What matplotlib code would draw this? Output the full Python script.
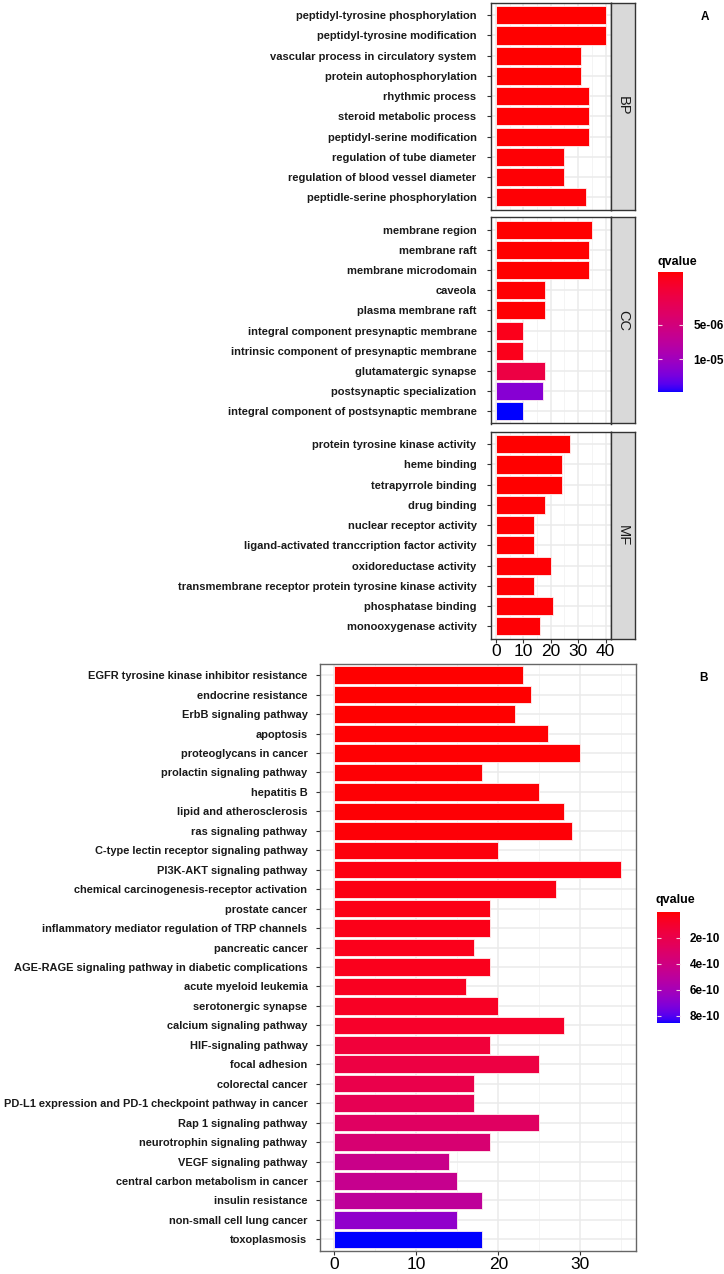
import numpy as np
import matplotlib
matplotlib.use('Agg')
from matplotlib import pyplot as plt
from matplotlib.colors import ListedColormap, LogNorm, Normalize
from matplotlib.cm import ScalarMappable

plt.rcParams['font.family'] = ['Liberation Sans', 'DejaVu Sans']

# ---- data (panel A: GO) ----
bp_terms = ['peptidyl-tyrosine phosphorylation', 'peptidyl-tyrosine modification',
            'vascular process in circulatory system', 'protein autophosphorylation',
            'rhythmic process', 'steroid metabolic process', 'peptidyl-serine modification',
            'regulation of tube diameter', 'regulation of blood vessel diameter',
            'peptidle-serine phosphorylation']
bp_count = [40, 40, 31, 31, 34, 34, 34, 25, 25, 33]
bp_q = [1.72e-6, 1.72e-6, 1.73e-6, 1.73e-6, 1.74e-6, 1.74e-6, 1.74e-6, 1.75e-6, 1.75e-6, 1.75e-6]

cc_terms = ['membrane region', 'membrane raft', 'membrane microdomain', 'caveola',
            'plasma membrane raft', 'integral component presynaptic membrane',
            'intrinsic component of presynaptic membrane', 'glutamatergic synapse',
            'postsynaptic specialization', 'integral component of postsynaptic membrane']
cc_count = [35, 34, 34, 18, 18, 10, 10, 18, 17, 10]
cc_q = [1.72e-6, 1.72e-6, 1.72e-6, 1.74e-6, 1.74e-6, 1.95e-6, 1.95e-6, 2.8e-6, 1.25e-5, 1.936e-5]

mf_terms = ['protein tyrosine kinase activity', 'heme binding', 'tetrapyrrole binding',
            'drug binding', 'nuclear receptor activity',
            'ligand-activated tranccription factor activity', 'oxidoreductase activity',
            'transmembrane receptor protein tyrosine kinase activity', 'phosphatase binding',
            'monooxygenase activity']
mf_count = [27, 24, 24, 18, 14, 14, 20, 14, 21, 16]
mf_q = [1.72e-6, 1.73e-6, 1.73e-6, 1.74e-6, 1.74e-6, 1.74e-6, 1.75e-6, 1.75e-6, 1.76e-6, 1.76e-6]

# ---- data (panel B: KEGG) ----
kegg_terms = ['EGFR tyrosine kinase inhibitor resistance', 'endocrine resistance',
              'ErbB signaling pathway', 'apoptosis', 'proteoglycans in cancer',
              'prolactin signaling pathway', 'hepatitis B', 'lipid and atherosclerosis',
              'ras signaling pathway', 'C-type lectin receptor signaling pathway',
              'PI3K-AKT signaling pathway', 'chemical carcinogenesis-receptor activation',
              'prostate cancer', 'inflammatory mediator regulation of TRP channels',
              'pancreatic cancer', 'AGE-RAGE signaling pathway in diabetic complications',
              'acute myeloid leukemia', 'serotonergic synapse', 'calcium signaling pathway',
              'HIF-signaling pathway', 'focal adhesion', 'colorectal cancer',
              'PD-L1 expression and PD-1 checkpoint pathway in cancer', 'Rap 1 signaling pathway',
              'neurotrophin signaling pathway', 'VEGF signaling pathway',
              'central carbon metabolism in cancer', 'insulin resistance',
              'non-small cell lung cancer', 'toxoplasmosis']
kegg_count = [23, 24, 22, 26, 30, 18, 25, 28, 29, 20, 35, 27, 19, 19, 17,
              19, 16, 20, 28, 19, 25, 17, 17, 25, 19, 14, 15, 18, 15, 18]
kegg_q = [0.0, 1.5e-12, 2.5e-12, 3.5e-12, 4.5e-12, 7e-12, 9e-12, 1.0e-11, 1.3e-11, 1.7e-11,
          2.5e-11, 3e-11, 3.5e-11, 4e-11, 4.5e-11, 5e-11, 6e-11, 7e-11, 8.5e-11, 1.4e-10,
          1.7e-10, 2.0e-10, 2.3e-10, 2.8e-10, 3.4e-10, 4.3e-10, 4.5e-10, 4.9e-10, 6.7e-10, 8.55e-10]


def lab_to_rgb(L, a, b):
    fy = (L + 16) / 116
    fx = fy + a / 500
    fz = fy - b / 200
    finv = lambda t: np.where(t > 6 / 29, t ** 3, 3 * (6 / 29) ** 2 * (t - 4 / 29))
    xyz = np.array([0.95047 * finv(fx), finv(fy), 1.08883 * finv(fz)])
    M = np.array([[3.2406, -1.5372, -0.4986], [-0.9689, 1.8758, 0.0415], [0.0557, -0.2040, 1.0570]])
    lin = M @ xyz
    rgb = np.where(lin <= 0.0031308, 12.92 * lin, 1.055 * np.abs(lin) ** (1 / 2.4) - 0.055)
    return np.clip(rgb, 0, 1).T


# red -> blue gradient interpolated in Lab space
t = np.linspace(0, 1, 256)
red_lab = np.array([53.2408, 80.0925, 67.2032])
blue_lab = np.array([32.2970, 79.1875, -107.8602])
lab = red_lab[None, :] * (1 - t[:, None]) + blue_lab[None, :] * t[:, None]
cmap = ListedColormap(lab_to_rgb(lab[:, 0], lab[:, 1], lab[:, 2]))

W, H = 724, 1274
fig = plt.figure(figsize=(W / 100, H / 100), dpi=100)


def rect(x0, y0, x1, y1):
    return [x0 / W, 1 - y1 / H, (x1 - x0) / W, (y1 - y0) / H]


def style_panel(ax, terms, counts, qs, norm, xmax, border, label_fs, pad):
    y = np.arange(1, len(terms) + 1)
    ax.set_axisbelow(True)
    ax.barh(y, counts, height=0.9, color=cmap(norm(np.array(qs))), edgecolor='#FFF0F0', linewidth=0.6)
    ax.set_ylim(len(terms) + 0.6, 0.4)
    ax.set_xlim(-0.05 * xmax, 1.05 * xmax)
    ax.set_yticks(y)
    ax.set_yticklabels(terms, fontsize=label_fs, fontweight='bold', color='#1A1A1A')
    ax.set_xticks(np.arange(0, xmax + 1, 10))
    ax.set_xticks(np.arange(5, xmax + 1, 10), minor=True)
    ax.grid(True, which='major', color='#EBEBEB', lw=1.1)
    ax.grid(True, which='minor', axis='x', color='#F2F2F2', lw=0.6)
    ax.tick_params(axis='both', which='major', length=3, width=0.8, color='#333333')
    ax.tick_params(axis='y', pad=pad)
    ax.tick_params(axis='x', which='minor', length=0)
    ax.tick_params(axis='x', labelsize=12.5, labelcolor='black', pad=1)
    for s in ax.spines.values():
        s.set_color(border)
        s.set_linewidth(1.0)


# ---- panel A ----
norm_a = LogNorm(vmin=1.714e-6, vmax=1.936e-5)
facets = [('BP', bp_terms, bp_count, bp_q, 3, 209.5),
          ('CC', cc_terms, cc_count, cc_q, 217.5, 423.5),
          ('MF', mf_terms, mf_count, mf_q, 432, 638.5)]
for name, terms, counts, qs, y0, y1 in facets:
    ax = fig.add_axes(rect(490.5, y0, 611, y1))
    style_panel(ax, terms, counts, qs, norm_a, 40, '#333333', 8, 7)
    if name != 'MF':
        ax.tick_params(axis='x', labelbottom=False, length=0)
    sax = fig.add_axes(rect(611, y0, 635, y1))
    sax.set_facecolor('#D9D9D9')
    sax.set_xticks([])
    sax.set_yticks([])
    for s in sax.spines.values():
        s.set_color('#333333')
        s.set_linewidth(1.0)
    sax.text(0.5, 0.5, name, rotation=-90, ha='center', va='center', fontsize=10.5,
             color='#1A1A1A', transform=sax.transAxes)

fig.text(705 / W, 1 - 17 / H, 'A', fontsize=8.5, fontweight='bold', ha='center', va='center')

cax_a = fig.add_axes(rect(657.5, 272, 682.5, 392))
cb_a = fig.colorbar(ScalarMappable(norm=norm_a, cmap=cmap), cax=cax_a)
cb_a.outline.set_visible(False)
cb_a.ax.minorticks_off()
cb_a.set_ticks([5e-6, 1e-5])
cb_a.set_ticklabels(['5e-06', '1e-05'])
cb_a.ax.invert_yaxis()
cb_a.ax.tick_params(left=True, right=True, direction='in', color='#F5D0E0', length=3,
                    width=0.8, labelsize=8.5, pad=8)
for lab_ in cb_a.ax.get_yticklabels():
    lab_.set_fontweight('bold')
fig.text(657 / W, 1 - 262 / H, 'qvalue', fontsize=9, fontweight='bold', ha='left', va='center')

# ---- panel B ----
norm_b = Normalize(vmin=0.0, vmax=8.55e-10)
axb = fig.add_axes(rect(320, 663.5, 635.7, 1251))
style_panel(axb, kegg_terms, kegg_count, kegg_q, norm_b, 35, '#666666', 7.9, 6)
axb.set_xticks([0, 10, 20, 30])
axb.set_xticks([5, 15, 25, 35], minor=True)
axb.set_xlim(-1.75, 36.75)

fig.text(703 / W, 1 - 678 / H, 'B', fontsize=8.5, fontweight='bold', ha='center', va='center')

cax_b = fig.add_axes(rect(656.5, 912, 680, 1023))
cb_b = fig.colorbar(ScalarMappable(norm=norm_b, cmap=cmap), cax=cax_b)
cb_b.outline.set_visible(False)
cb_b.set_ticks([2e-10, 4e-10, 6e-10, 8e-10])
cb_b.set_ticklabels(['2e-10', '4e-10', '6e-10', '8e-10'])
cb_b.ax.invert_yaxis()
cb_b.ax.tick_params(left=True, right=True, direction='in', color='#F5D0E0', length=3,
                    width=0.8, labelsize=8.5, pad=7)
for lab_ in cb_b.ax.get_yticklabels():
    lab_.set_fontweight('bold')
fig.text(655 / W, 1 - 900 / H, 'qvalue', fontsize=9, fontweight='bold', ha='left', va='center')

fig.savefig('out.png', dpi=100, facecolor='white')
